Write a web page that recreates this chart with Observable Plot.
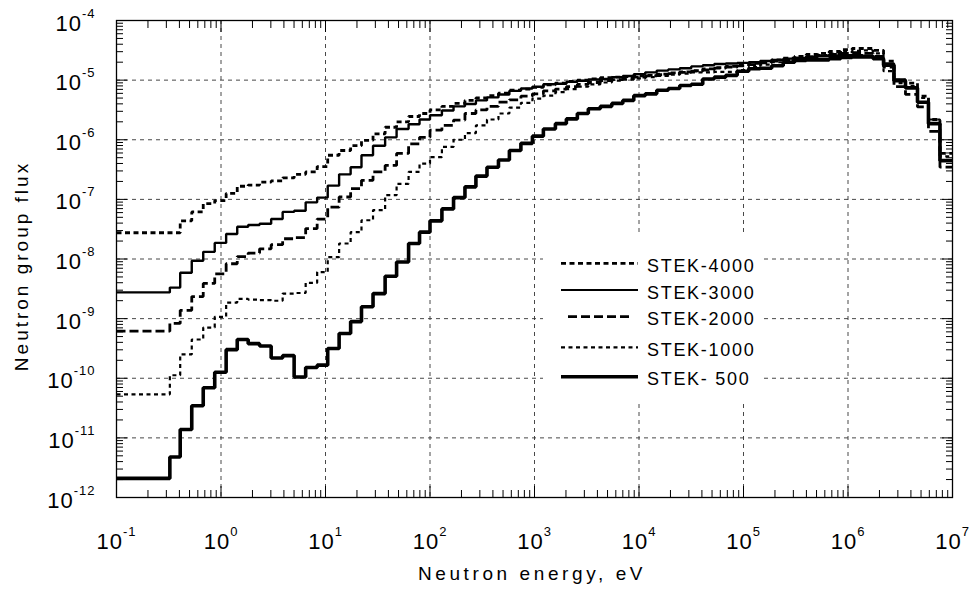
<!DOCTYPE html>
<html>
<head>
<meta charset="utf-8">
<script src="https://cdn.jsdelivr.net/npm/d3@7"></script>
<script src="https://cdn.jsdelivr.net/npm/@observablehq/plot@0.6"></script>
<style>
  html, body { margin: 0; padding: 0; background: #fff; }
  #chart svg { display: block; }
</style>
</head>
<body>
<div id="chart"></div>
<script>
// Group boundaries (eV), read from the step positions
const energyBounds = [0.1, 0.324, 0.407, 0.525, 0.676, 0.871, 1.12, 1.43, 1.82, 2.34, 3.02, 3.89, 5.01, 6.46, 8.32,
  10.5, 13.5, 17.4, 22.1, 28.5, 37.2, 47.9, 62.4, 79.4, 100, 130, 168, 216, 275, 351, 452, 575, 741, 955,
  1216, 1585, 2018, 2570, 3273, 4266, 5495, 7000, 8913, 11480, 14790, 19050, 24550, 31620, 40740, 52480,
  67610, 87100, 112200, 144500, 186200, 239900, 309000, 398100, 512900, 660700, 851100, 1096000, 1380000,
  1738000, 2188000, 2754000, 3548000, 4624000, 5888000, 7586000, 10000000];

const seriesNames = ["STEK-4000", "STEK-3000", "STEK-2000", "STEK-1000", "STEK- 500"];

// log10 of group flux, one value per group (70 groups)
const logFlux4000 = [-7.56, -7.56, -7.36, -7.21, -7.07, -7.02, -6.90, -6.78, -6.76, -6.71, -6.69, -6.64, -6.58, -6.54, -6.45,
  -6.26, -6.18, -6.10, -6.01, -5.90, -5.79, -5.70, -5.61, -5.56, -5.50, -5.44, -5.39, -5.34, -5.30, -5.26, -5.22, -5.17, -5.15,
  -5.12, -5.08, -5.05, -5.02, -5.00, -4.98, -4.96, -4.95, -4.94, -4.93, -4.92, -4.90, -4.88, -4.86, -4.84, -4.81, -4.79, -4.77,
  -4.74, -4.72, -4.69, -4.66, -4.63, -4.60, -4.57, -4.55, -4.52, -4.49, -4.47, -4.47, -4.50, -4.68, -5.00, -5.05, -5.27, -5.66, -6.23];
const logFlux3000 = [-8.56, -8.48, -8.23, -8.03, -7.88, -7.73, -7.58, -7.46, -7.43, -7.41, -7.33, -7.21, -7.19, -7.05, -6.97,
  -6.77, -6.58, -6.46, -6.26, -6.10, -5.96, -5.82, -5.74, -5.66, -5.59, -5.51, -5.44, -5.40, -5.34, -5.29, -5.24, -5.18, -5.14,
  -5.11, -5.07, -5.06, -5.03, -5.01, -4.99, -4.98, -4.95, -4.93, -4.90, -4.87, -4.84, -4.82, -4.80, -4.77, -4.75, -4.73, -4.72,
  -4.71, -4.70, -4.68, -4.66, -4.64, -4.63, -4.61, -4.60, -4.59, -4.58, -4.58, -4.59, -4.62, -4.72, -4.99, -5.12, -5.37, -5.73, -6.35];
const logFlux2000 = [-9.21, -9.08, -8.86, -8.63, -8.41, -8.25, -8.08, -7.96, -7.90, -7.83, -7.76, -7.66, -7.64, -7.49, -7.33,
  -7.13, -6.96, -6.82, -6.68, -6.54, -6.43, -6.23, -6.07, -5.96, -5.84, -5.76, -5.67, -5.56, -5.50, -5.44, -5.37, -5.33, -5.27,
  -5.23, -5.18, -5.15, -5.11, -5.07, -5.04, -5.01, -4.99, -4.97, -4.95, -4.93, -4.91, -4.89, -4.87, -4.85, -4.83, -4.80, -4.78,
  -4.76, -4.74, -4.71, -4.68, -4.66, -4.63, -4.61, -4.59, -4.57, -4.55, -4.54, -4.55, -4.60, -4.78, -5.11, -5.24, -5.45, -5.86, -6.46];
const logFlux1000 = [-10.27, -9.95, -9.60, -9.35, -9.15, -8.97, -8.73, -8.67, -8.68, -8.69, -8.70, -8.58, -8.57, -8.40, -8.22,
  -7.97, -7.74, -7.55, -7.35, -7.18, -6.93, -6.74, -6.54, -6.40, -6.29, -6.12, -6.00, -5.89, -5.76, -5.66, -5.56, -5.46, -5.38,
  -5.31, -5.26, -5.20, -5.15, -5.11, -5.07, -5.04, -5.01, -4.99, -4.97, -4.95, -4.93, -4.91, -4.89, -4.87, -4.87, -4.86, -4.86,
  -4.83, -4.78, -4.74, -4.70, -4.67, -4.64, -4.61, -4.58, -4.56, -4.53, -4.51, -4.50, -4.55, -4.85, -5.05, -5.10, -5.30, -5.66, -6.28];
const logFlux500 = [-11.68, -11.32, -10.86, -10.46, -10.16, -9.90, -9.52, -9.35, -9.42, -9.46, -9.66, -9.62, -9.98, -9.82, -9.78,
  -9.50, -9.25, -9.05, -8.80, -8.58, -8.29, -8.05, -7.74, -7.55, -7.36, -7.16, -6.97, -6.79, -6.61, -6.46, -6.34, -6.18, -6.06,
  -5.94, -5.82, -5.73, -5.65, -5.56, -5.48, -5.44, -5.39, -5.34, -5.26, -5.23, -5.17, -5.14, -5.09, -5.07, -4.98, -4.95, -4.92,
  -4.85, -4.81, -4.80, -4.76, -4.70, -4.67, -4.66, -4.66, -4.64, -4.62, -4.61, -4.61, -4.64, -4.75, -5.01, -5.13, -5.37, -5.73, -6.35];

const xTickValues = [0.1, 1, 10, 100, 1e3, 1e4, 1e5, 1e6, 1e7];
const yTickValues = [1e-12, 1e-11, 1e-10, 1e-9, 1e-8, 1e-7, 1e-6, 1e-5, 1e-4];
const xTitle = "Neutron energy, eV";
const yTitle = "Neutron group flux";

const allLogs = [logFlux4000, logFlux3000, logFlux2000, logFlux1000, logFlux500];
const lineStyles = {
  "STEK-4000": {w: 2.8, dash: "5,3.5"},
  "STEK-3000": {w: 2.4, dash: null},
  "STEK-2000": {w: 2.8, dash: "9,4"},
  "STEK-1000": {w: 2.2, dash: "4,3.5"},
  "STEK- 500": {w: 3.6, dash: null}
};

function toSteps(name, logs) {
  return energyBounds.map((E, i) => ({name, E, flux: Math.pow(10, logs[Math.min(i, logs.length - 1)])}));
}

const mult = [2, 3, 4, 5, 6, 7, 8, 9];
const xMinor = xTickValues.slice(0, -1).flatMap(d => mult.map(k => k * d));
const yMinor = yTickValues.slice(0, -1).flatMap(d => mult.map(k => k * d));
const fmt = d => "10^" + Math.round(Math.log10(d));
const FONT = "'Liberation Sans', Arial, Helvetica, sans-serif";

const marks = [
  Plot.ruleX(xTickValues.slice(1, -1), {stroke: "#333", strokeWidth: 0.9, strokeDasharray: "4,4"}),
  Plot.ruleY(yTickValues.slice(1, -1), {stroke: "#333", strokeWidth: 0.9, strokeDasharray: "4,4"}),
  ...seriesNames.map((n, i) => Plot.line(toSteps(n, allLogs[i]), {
    x: "E", y: "flux", curve: "step-after", stroke: "black",
    strokeWidth: lineStyles[n].w, strokeDasharray: lineStyles[n].dash,
    strokeLinejoin: "miter", strokeLinecap: "butt"
  })),
  Plot.axisX(xMinor, {anchor: "bottom", tickSize: -7, fill: "none", label: null}),
  Plot.axisX(xMinor, {anchor: "top", tickSize: -7, fill: "none", label: null}),
  Plot.axisY(yMinor, {anchor: "left", tickSize: -7, fill: "none", label: null}),
  Plot.axisY(yMinor, {anchor: "right", tickSize: -7, fill: "none", label: null}),
  Plot.axisX(xTickValues, {anchor: "bottom", tickSize: -11, fill: "none", label: null}),
  Plot.axisX(xTickValues, {anchor: "top", tickSize: -11, fill: "none", label: null}),
  Plot.axisY(yTickValues, {anchor: "left", tickSize: -11, fill: "none", label: null}),
  Plot.axisY(yTickValues, {anchor: "right", tickSize: -11, fill: "none", label: null}),
  Plot.axisX(xTickValues, {anchor: "bottom", tickSize: 0, tickPadding: 36, tickFormat: fmt, fontSize: 22, fill: "black", label: null}),
  Plot.axisY(yTickValues, {anchor: "left", tickSize: 0, tickPadding: 21, tickFormat: fmt, fontSize: 22, dy: 3, fill: "black", label: null}),
  Plot.frame({stroke: "black", strokeWidth: 1.3})
];

const chart = Plot.plot({
  width: 975, height: 595,
  marginLeft: 116, marginRight: 23, marginTop: 20, marginBottom: 98,
  x: {type: "log", domain: [0.1, 1e7]},
  y: {type: "log", domain: [1e-12, 1e-4]},
  style: {fontFamily: FONT, background: "white", color: "black", overflow: "visible"},
  marks
});
document.getElementById("chart").appendChild(chart);

const svg = d3.select(chart);

// superscript exponents in tick labels
svg.selectAll('g[aria-label="x-axis tick label"] text, g[aria-label="y-axis tick label"] text').each(function () {
  const t = this.textContent;
  const [base, exp] = t.split("^");
  const s = d3.select(this);
  s.text(null).attr("letter-spacing", 1).attr("stroke", "none").attr("font-weight", "normal");
  s.append("tspan").text(base);
  s.append("tspan").attr("dy", -13).attr("font-size", 13).attr("letter-spacing", 1).text(exp);
});

// white legend panel behind the legend (hides grid there)
const firstLine = chart.querySelector('g[aria-label="line"]');
const panel = document.createElementNS("http://www.w3.org/2000/svg", "rect");
panel.setAttribute("x", 543); panel.setAttribute("y", 236);
panel.setAttribute("width", 217); panel.setAttribute("height", 164);
panel.setAttribute("fill", "white");
firstLine.parentNode.insertBefore(panel, firstLine);

// legend
const legendRowsY = [263.3, 290, 316.7, 347.3, 376.7];
const lg = svg.append("g").attr("font-family", FONT).attr("text-anchor", "start");
seriesNames.forEach((n, i) => {
  const y = legendRowsY[i];
  const st = lineStyles[n];
  const x1 = n === "STEK-2000" ? 568 : 561;
  const x2 = n === "STEK-2000" ? 632 : 638;
  lg.append("line").attr("x1", x1).attr("x2", x2).attr("y1", y).attr("y2", y)
    .attr("stroke", "black").attr("stroke-width", n === "STEK-3000" ? 2 : st.w)
    .attr("stroke-dasharray", st.dash);
  lg.append("text").attr("x", 647).attr("y", y + 8.5).attr("text-anchor", "start")
    .attr("font-size", 18).attr("letter-spacing", 1.7).attr("fill", "black").text(n);
});

// axis titles
svg.append("text").attr("x", 532).attr("y", 580).attr("text-anchor", "middle")
  .attr("font-family", FONT).attr("font-size", 19).attr("letter-spacing", 3.6).attr("fill", "black").text(xTitle);
svg.append("text").attr("transform", "translate(28,266) rotate(-90)").attr("text-anchor", "middle")
  .attr("font-family", FONT).attr("font-size", 19).attr("letter-spacing", 3.0).attr("fill", "black").text(yTitle);
</script>
</body>
</html>
